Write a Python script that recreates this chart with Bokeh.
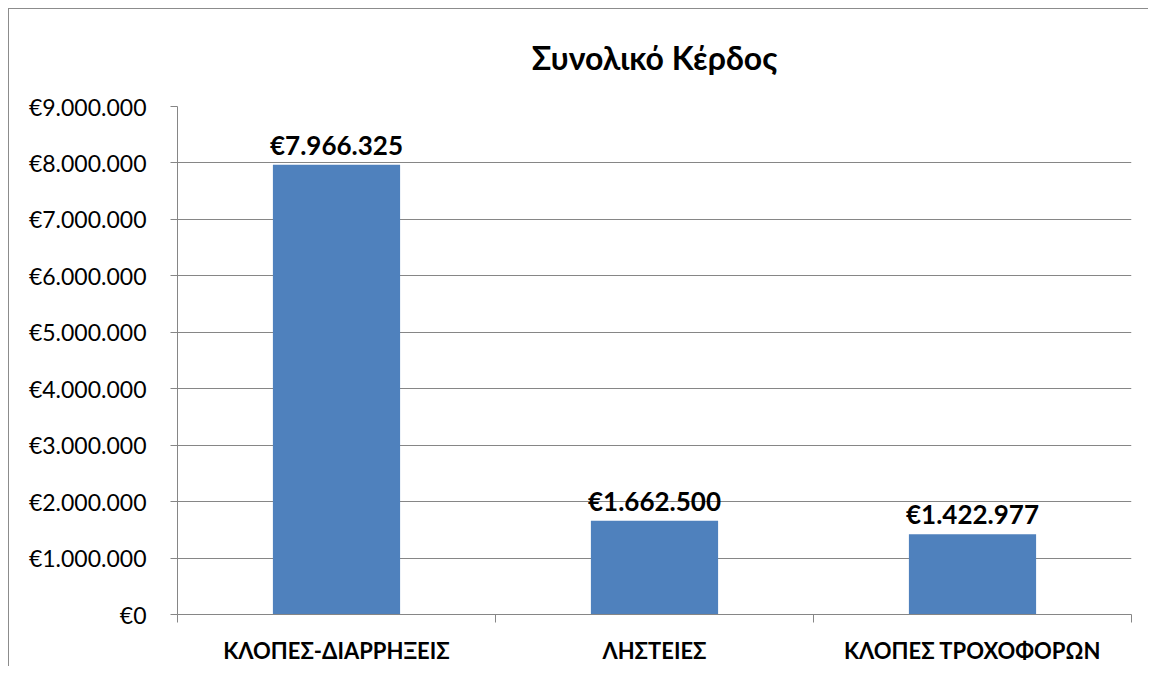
from bokeh.plotting import figure
from bokeh.models import FixedTicker, Range1d, ColumnDataSource
from bokeh.core.properties import value
from bokeh.embed import file_html
from bokeh.resources import INLINE

title_text = "Συνολικό Κέρδος"
categories = ["ΚΛΟΠΕΣ-ΔΙΑΡΡΗΞΕΙΣ", "ΛΗΣΤΕΙΕΣ", "ΚΛΟΠΕΣ ΤΡΟΧΟΦΟΡΩΝ"]
profits = [7966325, 1662500, 1422977]
y_ticks = [0, 1000000, 2000000, 3000000, 4000000, 5000000, 6000000, 7000000, 8000000, 9000000]
y_tick_labels = ["€0", "€1.000.000", "€2.000.000", "€3.000.000", "€4.000.000",
                 "€5.000.000", "€6.000.000", "€7.000.000", "€8.000.000", "€9.000.000"]

FONT = "Lato"
GRAY = "#868686"

def euro(v):
    return "€" + f"{v:,}".replace(",", ".")

xs = [i + 0.5 for i in range(len(categories))]
src = ColumnDataSource(dict(x=xs, top=profits, label=[euro(v) for v in profits]))

p = figure(width=1140, height=658, output_backend="svg", toolbar_location=None,
           x_range=Range1d(0, len(categories)), y_range=Range1d(0, y_ticks[-1]),
           min_border_left=168, min_border_right=18, min_border_top=97, min_border_bottom=53)
p.margin = (8, 0, 0, 8)
p.styles = {"border-left": "1px solid #8c8c8c", "border-top": "1px solid #8c8c8c"}

p.title.text = title_text
p.title.align = "center"
p.title.vertical_align = "top"
p.title.text_font = FONT
p.title.text_font_size = "32px"
p.title.text_font_style = "bold"
p.title.text_color = "black"
p.title.standoff = 56

p.outline_line_color = None
p.background_fill_color = "white"
p.border_fill_color = "white"

p.vbar(x="x", top="top", width=0.4, source=src, fill_color="#4F81BD", line_color=None)
p.text(x="x", y="top", text="label", source=src, text_align="center",
       text_baseline="bottom", y_offset=-4, text_font=value(FONT),
       text_font_size="26px", text_font_style="bold", text_color="black")

# y axis
p.yaxis.ticker = FixedTicker(ticks=y_ticks)
p.yaxis.major_label_overrides = {t: l for t, l in zip(y_ticks, y_tick_labels)}
p.yaxis.major_label_text_font = FONT
p.yaxis.major_label_text_font_size = "23px"
p.yaxis.major_label_text_color = "black"
p.yaxis.axis_line_color = GRAY
p.yaxis.major_tick_line_color = GRAY
p.yaxis.major_tick_out = 7
p.yaxis.major_tick_in = 0
p.yaxis.minor_tick_line_color = None
p.yaxis.major_label_standoff = 24

# x axis: labels at category centres, ticks at boundaries (as minor ticks)
p.xaxis.ticker = FixedTicker(ticks=xs, minor_ticks=list(range(len(categories) + 1)))
p.xaxis.major_label_overrides = {x: c for x, c in zip(xs, categories)}
p.xaxis.major_label_text_font = FONT
p.xaxis.major_label_text_font_size = "22px"
p.xaxis.major_label_text_font_style = "bold"
p.xaxis.major_label_text_color = "black"
p.xaxis.axis_line_color = GRAY
p.xaxis.major_tick_line_color = None
p.xaxis.major_tick_out = 0
p.xaxis.major_tick_in = 0
p.xaxis.minor_tick_line_color = GRAY
p.xaxis.minor_tick_out = 8
p.xaxis.minor_tick_in = 0
p.xaxis.major_label_standoff = 14

p.xgrid.grid_line_color = None
p.ygrid.grid_line_color = GRAY
p.ygrid.grid_line_width = 1

open("out.html", "w").write(file_html(p, INLINE))
